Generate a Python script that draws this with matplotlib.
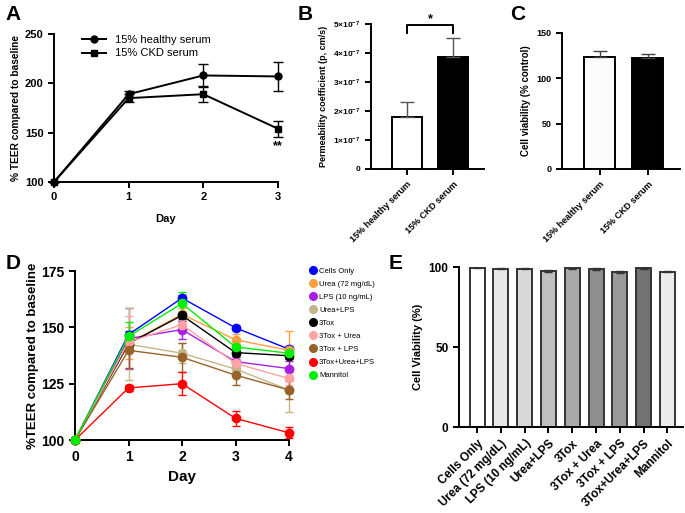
import matplotlib
matplotlib.use("Agg")
import matplotlib.pyplot as plt
import numpy as np

plt.rcParams['font.family'] = ['Liberation Sans', 'DejaVu Sans']
plt.rcParams['font.weight'] = 'bold'
plt.rcParams['axes.labelweight'] = 'bold'
plt.rcParams['mathtext.fontset'] = 'custom'
plt.rcParams['mathtext.rm'] = 'Liberation Sans:bold'
plt.rcParams['mathtext.bf'] = 'Liberation Sans:bold'
plt.rcParams['mathtext.default'] = 'bf'

# --- panel A data ---
days_a = [0, 1, 2, 3]
healthy_teer = [100, 189, 208, 207]
healthy_err = [0, 3, 12, 15]
ckd_teer = [100, 185, 189, 154]
ckd_err = [0, 4, 8, 8]

# --- panel B / C data ---
serum_groups = ['15% healthy serum', '15% CKD serum']
perm_vals = [1.8e-7, 3.85e-7]
perm_err = [0.5e-7, 0.65e-7]
viab_vals = [124, 122]
viab_err = [6, 5]

# --- panel D data ---
days_d = [0, 1, 2, 3, 4]
treatments = ['Cells Only', 'Urea (72 mg/dL)', 'LPS (10 ng/mL)', 'Urea+LPS', '3Tox',
              '3Tox + Urea', '3Tox + LPS', '3Tox+Urea+LPS', 'Mannitol']
d_colors = ['#0000ff', '#ff9f40', '#a81ee6', '#c4b689', '#000000',
            '#ffa3a3', '#96622a', '#ff0000', '#00ee00']
teer_d = [
    [100, 146.8, 163.0, 149.8, 140.3],
    [100, 143.0, 155.8, 144.5, 139.8],
    [100, 145.0, 149.0, 134.8, 131.7],
    [100, 142.5, 138.5, 131.5, 122.2],
    [100, 142.8, 155.3, 138.8, 137.4],
    [100, 143.5, 151.2, 134.0, 127.3],
    [100, 139.8, 136.7, 128.8, 122.2],
    [100, 123.1, 125.0, 109.6, 103.2],
    [100, 146.0, 160.6, 141.3, 138.5],
]
teer_d_err = [
    [0, 1.5, 1.5, 1.0, 1.2],
    [0, 7.0, 3.0, 2.5, 8.5],
    [0, 13.5, 4.0, 2.0, 3.5],
    [0, 16.0, 4.5, 2.5, 9.8],
    [0, 2.0, 1.5, 1.5, 1.5],
    [0, 11.5, 3.0, 2.0, 3.0],
    [0, 8.0, 6.5, 4.5, 4.0],
    [0, 1.5, 5.0, 3.3, 2.5],
    [0, 6.5, 5.0, 1.5, 1.2],
]

# --- panel E data ---
viab_e = [99.5, 99.0, 99.0, 97.5, 99.2, 98.7, 97.0, 99.2, 97.0]
viab_e_err = [0.3, 0.4, 0.4, 0.7, 0.4, 0.4, 0.5, 0.5, 0.4]
e_fills = ['#ffffff', '#e8e8e8', '#d9d9d9', '#bfbfbf', '#a9a9a9',
           '#8f8f8f', '#9a9a9a', '#727272', '#ebebeb']


def style_axes(ax, lw=1.4, size=8):
    for s in ['top', 'right']:
        ax.spines[s].set_visible(False)
    for s in ['left', 'bottom']:
        ax.spines[s].set_linewidth(lw)
    ax.tick_params(direction='out', length=4, width=lw, labelsize=size)
    for lab in ax.get_xticklabels() + ax.get_yticklabels():
        lab.set_fontweight('bold')


fig = plt.figure(figsize=(6.85, 5.13), dpi=100)

# ---------------- A ----------------
axA = fig.add_axes([0.0788, 0.6452, 0.327, 0.2885])
axA.errorbar(days_a, healthy_teer, yerr=healthy_err, color='black', marker='o', ms=5,
             lw=1.4, capsize=3.5, elinewidth=1, capthick=1, clip_on=False, zorder=3)
axA.errorbar(days_a, ckd_teer, yerr=ckd_err, color='black', marker='s', ms=5,
             lw=1.4, capsize=3.5, elinewidth=1, capthick=1, clip_on=False, zorder=3)
axA.set_xlim(0, 3)
axA.set_ylim(100, 250)
axA.set_xticks(days_a)
axA.set_yticks([100, 150, 200, 250])
axA.set_xlabel('Day', fontsize=8, labelpad=8)
axA.set_ylabel('% TEER compared to baseline', fontsize=7.3, labelpad=3)
axA.text(3, 136, '**', ha='center', va='center', fontsize=9)
hA = [plt.Line2D([], [], color='black', marker='o', ms=5, lw=1.4),
      plt.Line2D([], [], color='black', marker='s', ms=5, lw=1.4)]
leg = axA.legend(hA, ['15% healthy serum', '15% CKD serum'], loc='upper left',
                 bbox_to_anchor=(0.08, 1.06), frameon=False,
                 fontsize=8, handlelength=2.2, labelspacing=0.3)
for t in leg.get_texts():
    t.set_fontweight('normal')
style_axes(axA)

# ---------------- B ----------------
xb = np.arange(len(serum_groups))
axB = fig.add_axes([0.5416, 0.6706, 0.165, 0.2827])
axB.bar(xb, perm_vals, width=0.65, color=['white', 'black'], edgecolor='black', lw=1.4,
        yerr=[[0, 0], perm_err], error_kw=dict(ecolor='#555555', elinewidth=1, capsize=5, capthick=1))
axB.set_xlim(-0.78, 1.67)
axB.set_ylim(0, 5e-7)
axB.set_yticks([0, 1e-7, 2e-7, 3e-7, 4e-7, 5e-7])
axB.set_yticklabels(['0'] + [r'%d$\times$10$^{-7}$' % i for i in range(1, 6)])
axB.set_xticks(xb)
axB.set_xticklabels(serum_groups, rotation=45, ha='right', rotation_mode='anchor')
axB.set_ylabel('Permeability coefficient (p, cm/s)', fontsize=6.5)
axB.plot([0, 0, 1, 1], [4.7e-7, 4.98e-7, 4.98e-7, 4.7e-7], color='black', lw=1.4, clip_on=False)
axB.text(0.5, 5.15e-7, '*', ha='center', va='center', fontsize=9)
style_axes(axB, size=6)
axB.tick_params(axis='x', labelsize=6.5)

# ---------------- C ----------------
axC = fig.add_axes([0.8204, 0.6706, 0.1723, 0.2651])
axC.bar(xb, viab_vals, width=0.65, color=['#fcfcfc', 'black'], edgecolor='black', lw=1.4,
        yerr=[[0, 0], viab_err], error_kw=dict(ecolor='#444444', elinewidth=1, capsize=5, capthick=1))
axC.set_xlim(-0.79, 1.67)
axC.set_ylim(0, 150)
axC.set_yticks([0, 50, 100, 150])
axC.set_xticks(xb)
axC.set_xticklabels(serum_groups, rotation=45, ha='right', rotation_mode='anchor')
axC.set_ylabel('Cell viability (% control)', fontsize=7)
style_axes(axC, size=6.5)
axC.tick_params(axis='x', labelsize=6.5)

# ---------------- D ----------------
axD = fig.add_axes([0.1095, 0.1423, 0.3124, 0.3294])
for name, col, vals, err in zip(treatments, d_colors, teer_d, teer_d_err):
    axD.errorbar(days_d, vals, yerr=err, color=col, marker='o', ms=6, lw=1,
                 capsize=3, elinewidth=1, capthick=1, clip_on=False, zorder=3)
axD.set_xlim(0, 4)
axD.set_ylim(100, 175)
axD.set_xticks(days_d)
axD.set_yticks([100, 125, 150, 175])
axD.set_xlabel('Day', fontsize=11)
axD.set_ylabel('%TEER compared to baseline', fontsize=9.5, labelpad=2)
handles = [plt.Line2D([], [], color=c, marker='o', ls='none', ms=5.5) for c in d_colors]
legD = axD.legend(handles, treatments, loc='upper left', bbox_to_anchor=(1.08, 1.04),
                  frameon=False, fontsize=5.5, handletextpad=0.3, labelspacing=0.75,
                  handlelength=1.0, borderaxespad=0)
for t in legD.get_texts():
    t.set_fontweight('normal')
style_axes(axD, size=10)

# ---------------- E ----------------
xe = np.arange(len(treatments))
axE = fig.add_axes([0.670, 0.1676, 0.327, 0.3119])
axE.bar(xe, viab_e, width=0.63, color=e_fills, edgecolor='#333333', lw=1.4,
        yerr=viab_e_err, error_kw=dict(ecolor='#333333', elinewidth=1, capsize=3, capthick=1))
axE.set_xlim(-0.76, 8.65)
axE.set_ylim(0, 100)
axE.set_yticks([0, 50, 100])
axE.set_xticks(xe)
axE.set_xticklabels(treatments, rotation=45, ha='right', rotation_mode='anchor')
axE.set_ylabel('Cell Viability (%)', fontsize=8)
style_axes(axE, size=8.5)

# panel letters
for letter, x, y in [('A', 0.008, 0.99), ('B', 0.435, 0.99), ('C', 0.745, 0.99),
                     ('D', 0.008, 0.505), ('E', 0.568, 0.505)]:
    fig.text(x, y, letter, fontsize=15, fontweight='bold', va='top')

fig.savefig('out.png', dpi=100)
